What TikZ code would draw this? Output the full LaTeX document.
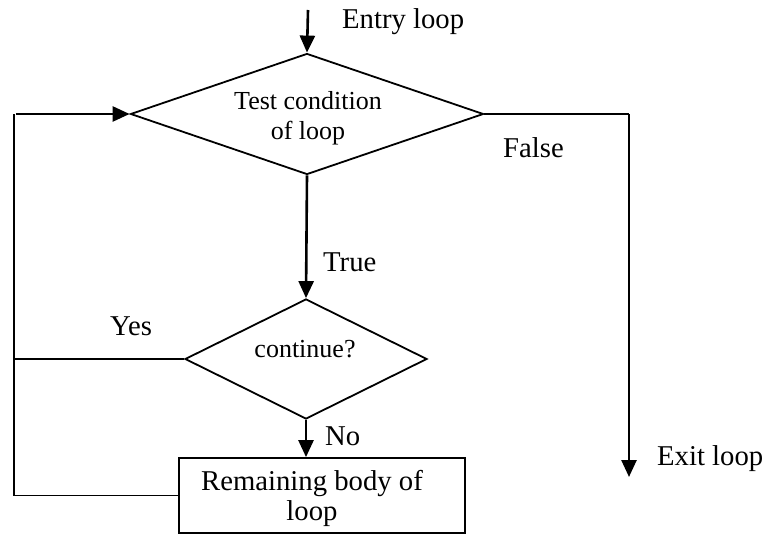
\documentclass[tikz,border=0pt]{standalone}
\usepackage{fontspec}
\setmainfont{Liberation Serif}
\usetikzlibrary{shapes.geometric,arrows.meta}
\begin{document}
\begin{tikzpicture}[x=1pt,y=-1pt,
  line/.style={draw=black,line width=1.8pt},
  flow/.style={draw=black,line width=2.6pt,-{Triangle[length=17pt,width=15pt]}},
  decision/.style={diamond,draw=black,line width=1.8pt,inner sep=0pt,aspect=2.9},
  process/.style={rectangle,draw=black,line width=1.8pt,inner sep=0pt},
  lbl/.style={font=\fontsize{28.7}{32}\selectfont,inner sep=0pt,anchor=base west},
  dtext/.style={font=\fontsize{26}{30}\selectfont,inner sep=0pt,anchor=base}]
  \useasboundingbox (0,0) rectangle (768,534);

  % decision and process blocks
  \node[decision,minimum width=353pt,minimum height=121pt] (test) at (307,114) {};
  \node[dtext] (testa) at (308,110) {Test condition};
  \node[dtext] (testb) at (308,140) {of loop};

  \node[decision,minimum width=242pt,minimum height=120pt] (cont) at (306,359) {};
  \node[dtext] (contt) at (305,357) {continue?};

  \node[process,minimum width=286pt,minimum height=75pt] (body) at (322,495.5) {};
  \node[lbl,anchor=base] (bodya) at (312,490) {Remaining body of};
  \node[lbl,anchor=base] (bodyb) at (312,520) {loop};

  % free ends of the connectors
  \coordinate (entry) at (308,10);
  \coordinate (lx) at (14,0);
  \coordinate (rx) at (629,0);
  \coordinate (exit) at (629,477);
  \coordinate (back) at (lx |- test.west);
  \coordinate (turn) at (test.east -| rx);

  % connectors
  \draw[flow] (entry) -- (test.north);
  \draw[flow] (test.south) -- (cont.north);
  \draw[flow] (cont.south) -- (cont.south |- body.north);
  \draw[line] (body.west) -| (back);
  \draw[flow] ([xshift=2pt]back) -- (test.west);
  \draw[line] (cont.west) -- (cont.west -| lx);
  \draw[line] (test.east) -- (turn);
  \draw[flow] (turn) -- (exit);

  % labels
  \node[lbl] (lentry) at (342,29) {Entry loop};
  \node[lbl] (lfalse) at (503,158) {False};
  \node[lbl] (ltrue) at (323,272) {True};
  \node[lbl] (lyes) at (110,336) {Yes};
  \node[lbl] (lno) at (325,445) {No};
  \node[lbl] (lexit) at (657,465) {Exit loop};
\end{tikzpicture}
\end{document}
